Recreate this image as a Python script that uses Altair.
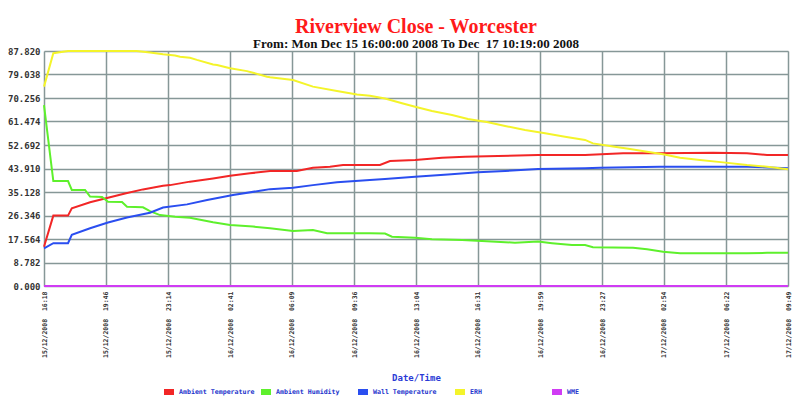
import altair as alt
import pandas as pd

SERIES = ["Ambient Temperature", "Ambient Humidity", "Wall Temperature", "ERH", "WME"]
COLORS = ["#f22626", "#5ef02c", "#2a4ef0", "#f4f42a", "#d03cf4"]

# hours since 15/12/2008 16:18
AT_H = [0, 0.52, 1.34, 1.55, 2.57, 3.57, 4.52, 5.52, 6.64, 7.03, 8.14, 9.43, 10.38, 11.49,
        12.61, 14.1, 15.0, 15.95, 16.68, 18.74, 19.3, 20.7, 22.2, 23.49, 25.32, 27.56,
        30.18, 32.3, 34.36, 37.32, 39.21, 40.33, 41.5]
AT_V = [14.7, 26.3, 26.3, 29.0, 31.3, 33.0, 34.6, 36.1, 37.5, 37.7, 39.0, 40.2, 41.2, 42.1,
        43.0, 43.0, 44.2, 44.6, 45.2, 45.2, 46.7, 47.1, 47.9, 48.3, 48.6, 49.0,
        49.0, 49.6, 49.6, 49.8, 49.6, 49.0, 49.0]

AH_H = [0, 0.52, 1.34, 1.55, 2.29, 2.57, 3.24, 3.57, 4.35, 4.63, 5.52, 5.91, 6.47, 7.31,
        8.14, 9.43, 10.38, 11.66, 12.61, 13.89, 15.0, 15.79, 18.18, 19.02, 19.41, 20.7,
        21.64, 23.32, 24.43, 26.27, 27.56, 28.34, 29.45, 30.18, 30.62, 32.86, 33.64, 34.53,
        35.48, 39.21, 40.33, 41.5]
AH_V = [67.6, 39.2, 39.2, 35.9, 35.9, 33.4, 33.3, 31.5, 31.4, 29.6, 29.4, 28.0, 26.5, 25.9,
        25.5, 23.8, 22.8, 22.2, 21.6, 20.6, 20.9, 19.7, 19.7, 19.6, 18.4, 18.0,
        17.5, 17.2, 16.8, 16.2, 16.6, 16.0, 15.3, 15.3, 14.5, 14.3, 13.7, 12.8,
        12.2, 12.2, 12.4, 12.4]

WT_H = [0, 0.52, 1.34, 1.55, 2.57, 3.57, 4.63, 5.91, 6.64, 7.98, 9.1, 10.54, 12.05, 12.61,
        13.89, 15.0, 16.34, 18.18, 19.02, 20.7, 22.53, 24.21, 25.72, 27.56, 30.18, 31.01,
        34.36, 39.21, 41.5]
WT_V = [14.1, 16.0, 16.0, 19.1, 21.6, 23.7, 25.6, 27.4, 29.3, 30.5, 32.1, 34.0, 35.6, 36.2,
        36.7, 37.7, 38.8, 39.6, 40.0, 40.8, 41.7, 42.5, 43.0, 43.7, 44.0, 44.2,
        44.6, 44.6, 44.0]

ERH_H = [0, 0.52, 1.34, 5.17, 5.91, 6.64, 7.31, 7.59, 8.14, 8.53, 9.43, 9.65, 10.38, 11.32,
         11.66, 12.44, 12.61, 13.89, 15.0, 16.34, 17.46, 18.18, 19.02, 19.97, 20.7, 21.64,
         22.76, 23.65, 24.77, 25.72, 26.83, 27.95, 29.06, 30.18, 30.62, 31.74, 32.69, 33.64,
         34.53, 35.48, 36.59, 37.88, 39.21, 40.33, 41.5]
ERH_V = [74.5, 87.0, 87.8, 87.8, 87.3, 86.6, 86.1, 85.7, 85.3, 84.5, 82.8, 82.6, 81.4, 80.3,
         79.7, 78.2, 78.0, 77.0, 74.5, 72.9, 71.6, 71.1, 70.1, 68.3, 67.0, 65.4,
         63.9, 62.4, 61.2, 59.8, 58.3, 57.1, 55.8, 54.6, 53.3, 52.1, 51.2, 50.2,
         49.2, 47.9, 47.1, 46.2, 45.2, 44.6, 43.6]

WME_H = [0, 10.38, 20.75, 31.125, 41.5]
WME_V = [0, 0, 0, 0, 0]

Y_TICKS = [0.0, 8.782, 17.564, 26.346, 35.128, 43.910, 52.692, 61.474, 70.256, 79.038, 87.820]
X_TICK_HOURS = [0, 3.458, 6.917, 10.375, 13.833, 17.292, 20.75, 24.208, 27.667, 31.125,
                34.583, 38.042, 41.5]
X_TICK_LABELS = ["15/12/2008  16:18", "15/12/2008  19:46", "15/12/2008  23:14",
                 "16/12/2008  02:41", "16/12/2008  06:09", "16/12/2008  09:36",
                 "16/12/2008  13:04", "16/12/2008  16:31", "16/12/2008  19:59",
                 "16/12/2008  23:27", "17/12/2008  02:54", "17/12/2008  06:22",
                 "17/12/2008  09:49"]

rows = []
for name, hs, vs in [(SERIES[0], AT_H, AT_V), (SERIES[1], AH_H, AH_V),
                     (SERIES[2], WT_H, WT_V), (SERIES[3], ERH_H, ERH_V),
                     (SERIES[4], WME_H, WME_V)]:
    for h, v in zip(hs, vs):
        rows.append({"series": name, "hours": h, "value": v})
df = pd.DataFrame(rows)

labels_js = "[" + ",".join("'" + s.replace("  ", "\u00a0\u00a0") + "'" for s in X_TICK_LABELS) + "]"

GRID = "#869797"
MONO = "DejaVu Sans Mono"

chart = alt.Chart(df).mark_line(strokeWidth=2).encode(
    x=alt.X("hours:Q",
            scale=alt.Scale(domain=[0, 41.5], nice=False, zero=False),
            axis=alt.Axis(values=X_TICK_HOURS,
                          labelExpr=labels_js + "[round(datum.value / 3.4583)]",
                          labelAngle=270, labelAlign="right", labelBaseline="middle",
                          labelPadding=5, labelFont=MONO, labelFontSize=6.5,
                          labelFontWeight="bold", labelColor="#333333",
                          labelOverlap=False, labelFlush=False, labelBound=False,
                          title="Date/Time", titleColor="#2b3ad6", titleFont=MONO,
                          titleFontSize=9, titleFontWeight="bold",
                          titleY=91, titleBaseline="middle",
                          grid=True, gridColor=GRID, gridWidth=1.5,
                          domain=False, ticks=False)),
    y=alt.Y("value:Q",
            scale=alt.Scale(domain=[0, 87.82], nice=False),
            axis=alt.Axis(values=Y_TICKS, format=".3f", labelFont=MONO, labelFontSize=9,
                          labelFontWeight="bold", labelColor="#333333", labelPadding=4,
                          labelOverlap=False, labelFlush=False, labelBound=False,
                          title=None, grid=True, gridColor=GRID, gridWidth=1.5,
                          domain=False, ticks=False)),
    color=alt.Color("series:N", sort=SERIES,
                    scale=alt.Scale(domain=SERIES, range=COLORS),
                    legend=alt.Legend(title=None, orient="none", direction="horizontal",
                                      columns=5, legendX=117, legendY=333,
                                      symbolType="stroke", symbolSize=100,
                                      symbolStrokeWidth=6, labelFont=MONO,
                                      labelFontSize=6.6, labelFontWeight="bold",
                                      labelColor="#2233cc", labelOffset=2,
                                      columnPadding=-6, gridAlign="all",
                                      labelLimit=200)),
).properties(
    width=744, height=235,
    title=alt.TitleParams(text="Riverview Close - Worcester",
                          subtitle="From: Mon Dec 15 16:00:00 2008 To Dec\u00a0\u00a017 10:19:00 2008",
                          font="Liberation Serif", fontSize=20, fontWeight="bold",
                          color="#ff1a1a", subtitleFont="Liberation Serif",
                          subtitleFontSize=13, subtitleFontWeight="bold",
                          subtitleColor="#111111", anchor="middle", offset=-4,
                          subtitlePadding=1),
    autosize=alt.AutoSizeParams(type="none"),
    padding={"left": 36, "top": 43, "right": 9, "bottom": 110},
).configure_view(
    fill="#c5d0d2", stroke=GRID, strokeWidth=1.5
).configure(background="white")

chart.save("out.html", embed_options={"renderer": "svg", "actions": False})
